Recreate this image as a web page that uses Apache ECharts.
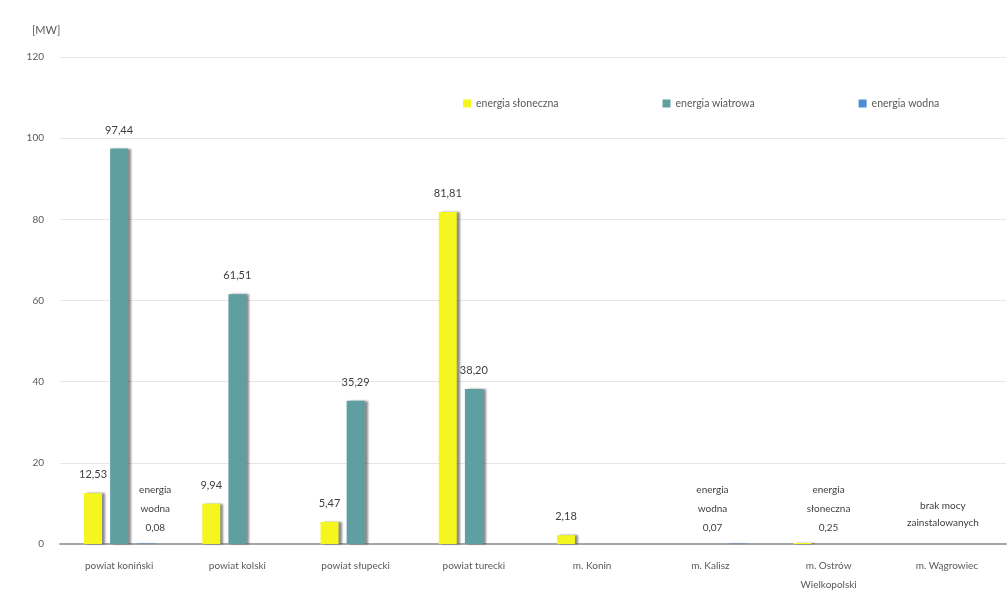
<!DOCTYPE html>
<html><head><meta charset="utf-8">
<script src="https://cdn.jsdelivr.net/npm/echarts@6/dist/echarts.min.js"></script>
<style>html,body{margin:0;padding:0;background:#fff}#c{width:1008px;height:593px}</style>
</head><body><div id="c"></div>
<script>
const categories = ['powiat koniński','powiat kolski','powiat słupecki','powiat turecki','m. Konin','m. Kalisz','m. Ostrów\nWielkopolski','m. Wągrowiec'];
const solar = [12.53, 9.94, 5.47, 81.81, 2.18, 0, 0.25, 0];
const wind  = [97.44, 61.51, 35.29, 38.20, 0, 0, 0, 0];
const hydro = [0.08, 0, 0, 0, 0, 0.07, 0, 0];
const seriesNames = ['energia słoneczna','energia wiatrowa','energia wodna'];
const yTicks = {min:0, max:120, interval:20};
const unit = '[MW]';
const noDataText = 'brak mocy\nzainstalowanych';

const fmt = v => v.toFixed(2).replace('.', ',');
const font = 'Lato, "Open Sans", sans-serif';
const lblBase = {show:true, position:'top', distance:13, color:'#404040', fontSize:11, fontFamily:font};
const shadow = {shadowColor:'rgba(0,0,0,0.45)', shadowOffsetX:3, shadowOffsetY:0, shadowBlur:2};

function mk(vals, special) {
  return vals.map((v,i) => {
    const s = special[i];
    if (s) return {value:v, label:Object.assign({}, lblBase, s)};
    if (v > 1) return {value:v, label:Object.assign({}, lblBase, {formatter: fmt(v)})};
    return {value:v, label:{show:false}};
  });
}
const solarData = mk(solar, {6:{formatter:'energia\nsłoneczna\n'+fmt(solar[6]), offset:[26,0], lineHeight:19, fontSize:10, distance:6}});
const windData = mk(wind, {7:{formatter:noDataText, lineHeight:17, fontSize:10, distance:13, offset:[-4,0]}});
const hydroData = mk(hydro, {
  0:{formatter:'energia\nwodna\n'+fmt(hydro[0]), offset:[10,0], lineHeight:19, fontSize:10, distance:6},
  5:{formatter:'energia\nwodna\n'+fmt(hydro[5]), offset:[-24,0], lineHeight:19, fontSize:10, distance:6}
});

const chart = echarts.init(document.getElementById('c'), null, {renderer:'canvas'});
chart.setOption({
  animation:false,
  backgroundColor:'#fff',
  textStyle:{fontFamily:font},
  graphic:[{type:'text', left:32, top:25, style:{text:unit, fill:'#595959', font:'11px '+font}}],
  legend:{left:458, top:93, itemWidth:8, itemHeight:8, itemGap:104, icon:'rect',
    textStyle:{color:'#595959', fontSize:10.5, fontFamily:font}},
  grid:{left:60, right:2, top:57, bottom:49, containLabel:false, outerBoundsMode:'none'},
  xAxis:{type:'category', data:categories,
    axisLine:{lineStyle:{color:'#a6a6a6', width:2}}, axisTick:{show:false},
    axisLabel:{color:'#595959', fontSize:10, fontFamily:font, margin:12, lineHeight:19, interval:0}},
  yAxis:{type:'value', min:yTicks.min, max:yTicks.max, interval:yTicks.interval,
    axisLine:{show:false}, axisTick:{show:false},
    axisLabel:{color:'#595959', fontSize:10, fontFamily:font, margin:16, align:'right'},
    splitLine:{lineStyle:{color:'#e6e6e6', width:1}}},
  series:[
    {name:seriesNames[0], type:'bar', data:solarData, barWidth:18, barGap:'45%', itemStyle:Object.assign({color:'#f5f51f'}, shadow)},
    {name:seriesNames[1], type:'bar', data:windData, barWidth:18, barGap:'45%', itemStyle:Object.assign({color:'#5f9fa1'}, shadow)},
    {name:seriesNames[2], type:'bar', data:hydroData, barWidth:18, barGap:'45%', itemStyle:Object.assign({color:'#4a8fd2'}, shadow)}
  ]
});
</script></body></html>
